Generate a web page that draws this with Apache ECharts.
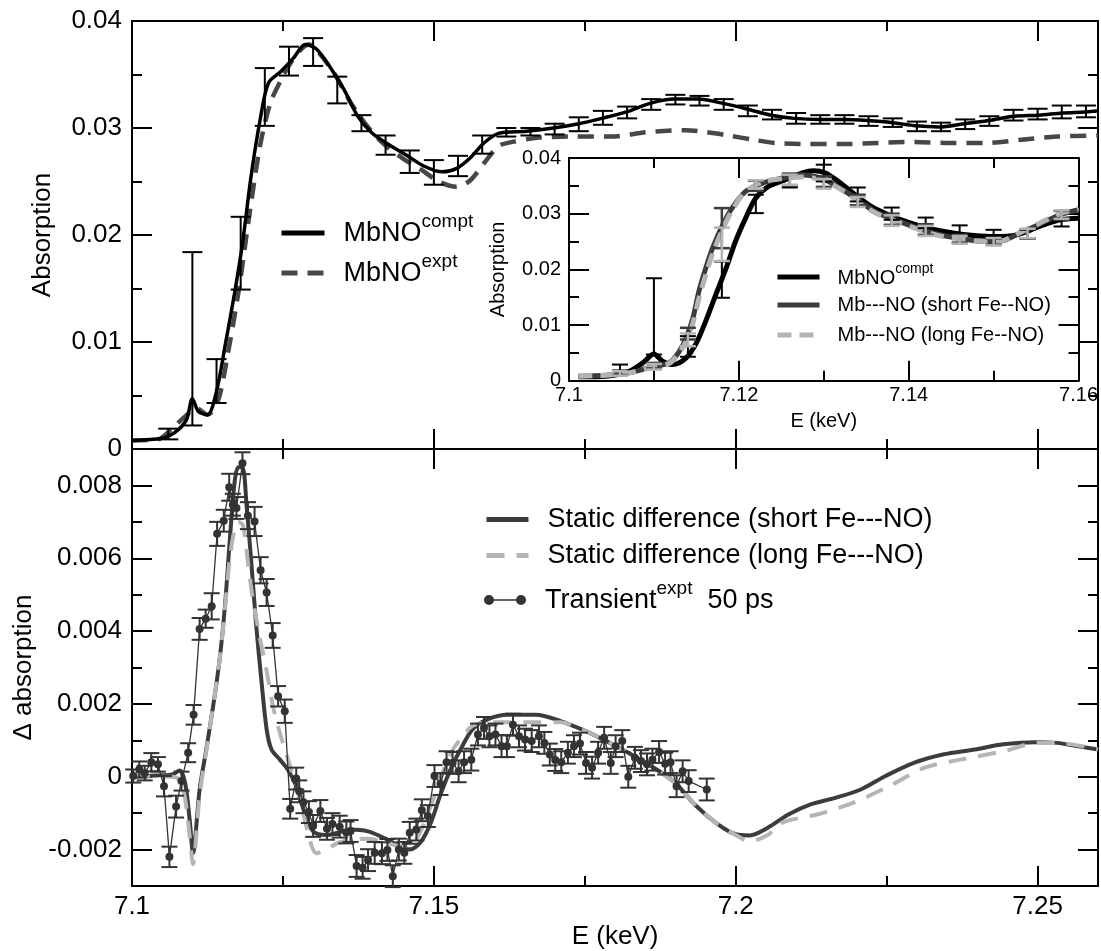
<!DOCTYPE html>
<html><head><meta charset="utf-8">
<script src="https://cdn.jsdelivr.net/npm/echarts@6/dist/echarts.min.js"></script>
<style>html,body{margin:0;padding:0;background:#fff}#c{width:1101px;height:951px}</style>
</head><body><div id="c"></div>
<script>
const FONT = '"Liberation Sans", Arial, Helvetica, sans-serif';

// ---- tick values ----
const xMajor = [7.1, 7.15, 7.2, 7.25];
const xMinor = [7.125, 7.175, 7.225];
const yTopMajor = [0, 0.01, 0.02, 0.03, 0.04];
const yTopMinor = [0.005, 0.015, 0.025, 0.035];
const yBotMajor = [-0.002, 0, 0.002, 0.004, 0.006, 0.008];
const yBotMinor = [-0.001, 0.001, 0.003, 0.005, 0.007];
const xInMajor = [7.1, 7.12, 7.14, 7.16];
const xInMinor = [7.11, 7.13, 7.15];
const yInMajor = [0, 0.01, 0.02, 0.03, 0.04];
const yInMinor = [0.005, 0.015, 0.025, 0.035];

// ---- top panel: MbNO compt ----
const comptE = [7.100,7.105,7.107,7.109,7.110,7.111,7.1125,7.114,7.1155,7.117,7.1183,7.1197,7.1212,7.1226,7.1247,7.1267,7.1287,7.1305,7.1328,7.1351,7.1374,7.1398,7.1421,7.1456,7.1485,7.1514,7.1537,7.156,7.1583,7.1607,7.1653,7.1698,7.174,7.1778,7.1819,7.1858,7.1899,7.1938,7.1979,7.2017,7.2059,7.2097,7.2139,7.218,7.2218,7.226,7.2298,7.2337,7.2378,7.2419,7.2461,7.2502,7.2541,7.2579,7.26];
const comptA = [0.0008,0.0010,0.0015,0.0027,0.0047,0.0035,0.0032,0.0054,0.0099,0.0146,0.0192,0.0254,0.0307,0.0342,0.0353,0.0365,0.0378,0.0374,0.0357,0.0336,0.0311,0.0295,0.0286,0.0274,0.0264,0.0259,0.0262,0.0272,0.0286,0.0295,0.0297,0.0300,0.0304,0.0309,0.0315,0.0323,0.0327,0.0327,0.0323,0.0318,0.0312,0.0309,0.0308,0.0308,0.0307,0.0305,0.0302,0.0301,0.0304,0.0307,0.0311,0.0312,0.0314,0.0315,0.0316];
const comptErrE = [7.106,7.110,7.114,7.118,7.122,7.126,7.130,7.134,7.138,7.142,7.146,7.150,7.154,7.158,7.162,7.166,7.170,7.174,7.178,7.182,7.186,7.190,7.194,7.198,7.202,7.206,7.210,7.214,7.218,7.222,7.226,7.230,7.234,7.238,7.242,7.246,7.250,7.254,7.258];
const comptErrLo = [0.0009,0.0022,0.0043,0.0149,0.0302,0.0349,0.0358,0.0323,0.0297,0.0275,0.0258,0.0247,0.0255,0.0276,0.0292,0.0293,0.0294,0.0297,0.0303,0.0309,0.0317,0.0322,0.0321,0.0317,0.0311,0.0308,0.0304,0.0304,0.0304,0.0302,0.0301,0.0297,0.0297,0.0299,0.0302,0.0307,0.0308,0.0309,0.0310];
const comptErrHi = [0.0019,0.0184,0.0084,0.0217,0.0356,0.0376,0.0384,0.0348,0.0312,0.0293,0.0279,0.0270,0.0274,0.0293,0.0300,0.0300,0.0304,0.0310,0.0316,0.0320,0.0327,0.0331,0.0330,0.0327,0.0321,0.0317,0.0314,0.0312,0.0312,0.0311,0.0309,0.0306,0.0305,0.0308,0.0311,0.0317,0.0318,0.0321,0.0321];

// ---- top panel: MbNO expt ----
const exptE = [7.100,7.1043,7.1066,7.1087,7.1107,7.1125,7.1142,7.116,7.1177,7.1194,7.1212,7.1229,7.1247,7.1264,7.1281,7.1293,7.131,7.1336,7.1363,7.1392,7.1421,7.145,7.1479,7.1508,7.1537,7.156,7.1583,7.1607,7.163,7.1674,7.1734,7.1793,7.1852,7.1917,7.1952,7.1988,7.2029,7.2065,7.2118,7.2177,7.2236,7.2295,7.2354,7.2414,7.2473,7.2532,7.26];
const exptA = [0.0008,0.0009,0.0019,0.0030,0.0038,0.0032,0.0044,0.0093,0.0149,0.0217,0.0283,0.0323,0.0345,0.0362,0.0374,0.0378,0.0370,0.0350,0.0323,0.0300,0.0283,0.0271,0.0261,0.0250,0.0245,0.0251,0.0267,0.0283,0.0287,0.0291,0.0292,0.0292,0.0296,0.0298,0.0296,0.0293,0.0289,0.0286,0.0285,0.0285,0.0286,0.0287,0.0286,0.0286,0.0289,0.0292,0.0293];

// ---- inset ----
const inComptE = [7.1011,7.1044,7.1071,7.1087,7.110,7.111,7.1122,7.1138,7.115,7.1161,7.1173,7.1185,7.1196,7.1208,7.122,7.1235,7.1255,7.1274,7.1288,7.1302,7.1317,7.1337,7.1356,7.1376,7.1399,7.1423,7.1454,7.1477,7.1501,7.1527,7.1554,7.1578,7.16];
const inComptA = [0.0007,0.0008,0.0017,0.0032,0.0048,0.0035,0.0029,0.0041,0.0068,0.0107,0.0155,0.0202,0.0250,0.0292,0.0328,0.0349,0.0361,0.0373,0.0377,0.0373,0.0358,0.0334,0.0313,0.0298,0.0285,0.0274,0.0265,0.0261,0.0259,0.0262,0.0277,0.0289,0.0292];
const inShortE = [7.1011,7.1044,7.1071,7.110,7.1118,7.113,7.1138,7.1146,7.1153,7.1161,7.1169,7.1181,7.1192,7.1208,7.1228,7.1251,7.1274,7.1294,7.1313,7.1337,7.136,7.1384,7.1411,7.1434,7.1462,7.1489,7.1509,7.1527,7.1554,7.1578,7.16];
const inShortA = [0.0008,0.0010,0.0014,0.0026,0.0032,0.0053,0.0077,0.0113,0.0161,0.0202,0.0238,0.0280,0.0310,0.0340,0.0355,0.0364,0.0370,0.0365,0.0352,0.0328,0.0304,0.0289,0.0274,0.0263,0.0255,0.0250,0.0251,0.0262,0.0281,0.0298,0.0307];
const inLongA = [0.0008,0.0010,0.0014,0.0025,0.0031,0.0050,0.0071,0.0104,0.0148,0.0190,0.0228,0.0272,0.0306,0.0340,0.0357,0.0363,0.0366,0.0362,0.0350,0.0326,0.0302,0.0287,0.0272,0.0261,0.0254,0.0250,0.0251,0.0263,0.0283,0.0300,0.0309];
const inErrE = [7.106,7.110,7.114,7.118,7.122,7.126,7.130,7.134,7.138,7.142,7.146,7.150,7.154,7.158];
const inComptLo = [0.0018,0.0047,0.0043,0.0149,0.0301,0.0347,0.0358,0.0322,0.0289,0.0274,0.0261,0.0255,0.0256,0.0277];
const inComptHi = [0.0029,0.0184,0.0080,0.0214,0.0334,0.0370,0.0388,0.0347,0.0311,0.0293,0.0279,0.0271,0.0271,0.0292];
const inShortLo = [0.0010,0.0022,0.0074,0.0238,0.0341,0.0350,0.0348,0.0315,0.0280,0.0262,0.0248,0.0244,0.0255,0.0289];
const inShortHi = [0.0018,0.0032,0.0095,0.0310,0.0359,0.0372,0.0367,0.0334,0.0300,0.0281,0.0262,0.0257,0.0272,0.0305];
const inLongLo = [0.0009,0.0020,0.0062,0.0215,0.0345,0.0352,0.0345,0.0312,0.0278,0.0260,0.0246,0.0243,0.0256,0.0291];
const inLongHi = [0.0017,0.0030,0.0085,0.0275,0.0360,0.0370,0.0362,0.0330,0.0297,0.0278,0.0260,0.0256,0.0273,0.0306];

// ---- bottom panel ----
const shortE = [7.100,7.1046,7.1066,7.1079,7.1088,7.1096,7.1101,7.1112,7.1123,7.1134,7.1145,7.1154,7.1162,7.117,7.1176,7.1183,7.119,7.1198,7.1206,7.1214,7.1223,7.1231,7.1245,7.1258,7.1272,7.1286,7.13,7.1322,7.1349,7.1362,7.1391,7.142,7.1443,7.146,7.1478,7.1495,7.1512,7.153,7.1547,7.1564,7.1588,7.1622,7.1669,7.171,7.1745,7.1781,7.1822,7.1864,7.1899,7.1935,7.197,7.2,7.2023,7.2053,7.2088,7.2124,7.2165,7.2207,7.2248,7.2295,7.2343,7.2396,7.2443,7.2496,7.2532,7.2573,7.26];
const shortD = [0,0.00004,0.00006,0.00017,-0.00017,-0.00126,-0.0021,-0.00035,0.00075,0.0019,0.0032,0.0047,0.0065,0.0081,0.0085,0.0085,0.0074,0.0058,0.0041,0.0027,0.0013,0.00075,0.00047,0.0002,-0.00026,-0.00099,-0.0015,-0.0016,-0.0015,-0.00145,-0.0015,-0.0017,-0.0019,-0.0020,-0.0018,-0.00126,-0.00044,0.00029,0.00084,0.0013,0.00157,0.0017,0.0017,0.00153,0.0013,0.00102,0.00066,0.00025,-0.00016,-0.00081,-0.0013,-0.00158,-0.00161,-0.0014,-0.00103,-0.00076,-0.00058,-0.00035,0.00002,0.00038,0.00061,0.00075,0.00089,0.00095,0.00093,0.00082,0.00075];
const longE = [7.100,7.1066,7.1079,7.1088,7.1096,7.1101,7.1112,7.1123,7.1134,7.1145,7.1154,7.1162,7.117,7.1176,7.1184,7.1192,7.12,7.1212,7.1223,7.1234,7.1245,7.1258,7.1278,7.1294,7.1305,7.1322,7.1344,7.1391,7.142,7.1443,7.146,7.1478,7.1495,7.1512,7.153,7.1547,7.1564,7.1588,7.1622,7.1669,7.171,7.1745,7.1781,7.1822,7.1864,7.1899,7.1935,7.197,7.2,7.2023,7.2053,7.2077,7.2136,7.2195,7.2254,7.2313,7.2372,7.2443,7.25,7.2532,7.26];
const longD = [0,0,-0.0001,-0.0006,-0.0017,-0.0024,-0.0005,0.0007,0.0019,0.0032,0.0046,0.0060,0.0068,0.0070,0.0069,0.0059,0.0049,0.0038,0.0029,0.0019,0.0012,0.0005,-0.0006,-0.0017,-0.0021,-0.0020,-0.0018,-0.0017,-0.0018,-0.0019,-0.0019,-0.0015,-0.0008,0.0,0.0007,0.0011,0.0014,0.0015,0.0015,0.0015,0.0015,0.0013,0.00102,0.00066,0.00025,-0.00016,-0.0008,-0.0013,-0.0016,-0.00177,-0.0016,-0.00126,-0.00103,-0.00071,-0.00026,0.00025,0.00047,0.0007,0.00093,0.00093,0.00075];
const transE = [7.1002,7.1012,7.1021,7.1032,7.1043,7.1053,7.1062,7.1073,7.1082,7.1093,7.1102,7.1112,7.1122,7.1132,7.1141,7.1152,7.1161,7.1167,7.1173,7.1183,7.1192,7.1203,7.1213,7.1223,7.1233,7.1242,7.1253,7.1262,7.1272,7.1277,7.1284,7.1293,7.13,7.1312,7.1323,7.1332,7.1344,7.1355,7.1362,7.1372,7.1382,7.1391,7.1402,7.1414,7.1423,7.1432,7.1442,7.1451,7.146,7.1471,7.148,7.149,7.1501,7.1511,7.1521,7.1531,7.1541,7.155,7.1562,7.1573,7.1583,7.1592,7.1602,7.1612,7.1621,7.1631,7.1641,7.1651,7.1662,7.1674,7.1683,7.1692,7.1701,7.1711,7.1722,7.1732,7.1742,7.1752,7.1762,7.1772,7.1782,7.1793,7.1801,7.1812,7.1822,7.1833,7.1843,7.1853,7.1862,7.1873,7.1883,7.1892,7.1902,7.1912,7.1922,7.1952];
const transD = [0.00002,0.0002,0.0001,0.0004,0.00034,-0.00026,-0.0022,-0.00082,-0.00012,0.00066,0.0017,0.00406,0.00434,0.00468,0.00667,0.00703,0.00795,0.00747,0.00738,0.00861,0.00717,0.00701,0.00567,0.00506,0.00388,0.00221,0.0018,-0.00088,-0.00005,-0.0004,-0.0007,-0.00097,-0.00135,-0.00094,-0.00143,-0.0013,-0.00137,-0.00153,-0.00149,-0.00245,-0.0025,-0.00229,-0.00209,-0.0021,-0.00201,-0.00273,-0.002,-0.00209,-0.00154,-0.00145,-0.00092,-0.00108,0.00002,-0.0002,0.0004,0.00038,0.00015,0.0004,0.00047,0.00116,0.00134,0.00111,0.00116,0.00084,0.00084,0.00143,0.00111,0.00102,0.00098,0.00111,0.00093,0.00061,0.00046,0.0004,0.00066,0.00084,0.00091,0.00038,0.00025,0.00066,0.00107,0.00038,0.00084,0.00098,0.0,0.00052,0.00043,0.00034,0.00047,0.00068,0.00036,0.0004,-0.00026,0.00015,-0.00012,-0.00035];
const transErr = [0.00018,0.00022,0.0002,0.00025,0.0002,0.00028,0.00028,0.0003,0.00026,0.00026,0.00027,0.0003,0.00025,0.00036,0.00033,0.0003,0.00037,0.0003,0.0003,0.0003,0.00037,0.0004,0.00036,0.00037,0.00034,0.00028,0.00032,0.00027,0.0003,0.0003,0.0003,0.0003,0.0003,0.0003,0.0003,0.0003,0.0003,0.0003,0.0003,0.0003,0.0003,0.0003,0.0003,0.0003,0.0003,0.0003,0.0003,0.0003,0.0003,0.0003,0.0003,0.0003,0.0003,0.0003,0.0003,0.0003,0.0003,0.0003,0.0003,0.0003,0.0003,0.0003,0.0003,0.0003,0.0003,0.0003,0.0003,0.0003,0.0003,0.0003,0.0003,0.0003,0.0003,0.0003,0.0003,0.0003,0.0003,0.0003,0.0003,0.0003,0.0003,0.0003,0.0003,0.0003,0.0003,0.0003,0.0003,0.0003,0.0003,0.0003,0.0003,0.0003,0.0003,0.0003,0.0003,0.0003];

// ---- helpers ----
const zip = (xs, ys) => xs.map((x, i) => [x, ys[i]]);
const fmt = v => String(+(+v).toFixed(4));

function axisSet(dim, grid, min, max, major, minor, o) {
  const A = dim === 'x' ? 'bottom' : 'left';
  const B = dim === 'x' ? 'top' : 'right';
  const mk = (pos, vals, len, withLine, withLabel) => {
    const ax = {
      type: 'value', gridIndex: grid, min: min, max: max, position: pos,
      splitLine: {show: false},
      axisLine: withLine ? {show: true, onZero: false, lineStyle: {color: '#000', width: 2}} : {show: false, onZero: false},
      axisTick: {show: true, inside: true, length: len, customValues: vals, lineStyle: {color: '#000', width: 2}},
      axisLabel: withLabel ? {show: true, customValues: major, formatter: fmt, fontSize: o.fs, fontFamily: FONT, color: '#000', margin: o.margin} : {show: false},
      silent: true
    };
    if (withLabel && o.name) {
      ax.name = o.name; ax.nameLocation = 'middle'; ax.nameGap = o.nameGap;
      ax.nameTextStyle = {fontSize: o.nfs, fontFamily: FONT, color: '#000'};
    }
    return ax;
  };
  return [mk(A, major, o.maj, true, o.labels), mk(A, minor, o.min, false, false),
          mk(B, major, o.maj, true, false), mk(B, minor, o.min, false, false)];
}

function errSeries(name, xi, yi, es, lo, hi, color, width, cap) {
  return {
    type: 'custom', name: name, xAxisIndex: xi, yAxisIndex: yi, z: 4, silent: true,
    data: es.map((e, i) => [e, lo[i], hi[i]]),
    encode: {x: 0, y: [1, 2]},
    renderItem: function (params, api) {
      const a = api.coord([api.value(0), api.value(2)]);
      const b = api.coord([api.value(0), api.value(1)]);
      const st = {stroke: color, lineWidth: width};
      return {type: 'group', children: [
        {type: 'line', shape: {x1: a[0], y1: a[1], x2: b[0], y2: b[1]}, style: st},
        {type: 'line', shape: {x1: a[0] - cap, y1: a[1], x2: a[0] + cap, y2: a[1]}, style: st},
        {type: 'line', shape: {x1: b[0] - cap, y1: b[1], x2: b[0] + cap, y2: b[1]}, style: st}
      ]};
    }
  };
}

const legendText = {
  'MbNO compt': '{n|MbNO}{s|compt}',
  'MbNO expt': '{n|MbNO}{s|expt}',
  'Inset compt': '{n|MbNO}{s|compt}',
  'Inset short': '{n|Mb---NO (short Fe--NO)}',
  'Inset long': '{n|Mb---NO (long Fe--NO)}',
  'Static short': '{n|Static difference (short Fe---NO)}',
  'Static long': '{n|Static difference (long Fe---NO)}',
  'Transient': '{n|Transient}{s|expt}{n|  50 ps}'
};
function leg(item, left, top, iw, ih, padL, rich, hideSymbol) {
  const l = {
    show: true, left: left, top: top, orient: 'vertical', padding: 0,
    itemWidth: iw, itemHeight: ih, selectedMode: false,
    data: [item],
    formatter: n => legendText[n],
    lineStyle: {width: 5},
    textStyle: {fontFamily: FONT, color: '#000', padding: [0, 0, 0, padL], rich: rich}
  };
  if (hideSymbol) l.itemStyle = {color: 'rgba(0,0,0,0)', borderWidth: 0, opacity: 0};
  return l;
}
const richSupBig = {
  n: {fontSize: 27, fontFamily: FONT, color: '#000', lineHeight: 28, padding: [24, 0, 0, 0], verticalAlign: 'bottom'},
  s: {fontSize: 19, fontFamily: FONT, color: '#000', lineHeight: 20, padding: [0, 0, 16, 0], verticalAlign: 'bottom'}
};
const richTrans = {
  n: {fontSize: 27, fontFamily: FONT, color: '#000', lineHeight: 28, padding: [8, 0, 0, 0], verticalAlign: 'bottom'},
  s: {fontSize: 19, fontFamily: FONT, color: '#000', lineHeight: 20, padding: [0, 0, 16, 0], verticalAlign: 'bottom'}
};
const richPlainBig = {n: {fontSize: 27, fontFamily: FONT, color: '#000', lineHeight: 30}};
const richSupSmall = {
  n: {fontSize: 20, fontFamily: FONT, color: '#000', lineHeight: 22, padding: [6, 0, 0, 0], verticalAlign: 'bottom'},
  s: {fontSize: 14, fontFamily: FONT, color: '#000', lineHeight: 16, padding: [0, 0, 12, 0], verticalAlign: 'bottom'}
};
const richPlainSmall = {n: {fontSize: 20, fontFamily: FONT, color: '#000', lineHeight: 22}};

const mainX = {fs: 26, margin: 8, maj: 20, min: 10, nfs: 26};
const xAxes = [].concat(
  axisSet('x', 0, 7.1, 7.26, xMajor, xMinor, Object.assign({}, mainX, {labels: false})),
  axisSet('x', 1, 7.1, 7.26, xMajor, xMinor, Object.assign({}, mainX, {labels: true, name: 'E (keV)', nameGap: 38})),
  axisSet('x', 2, 7.1, 7.16, xInMajor, xInMinor, {fs: 20, margin: 5, maj: 20, min: 10, nfs: 20, labels: true, name: 'E (keV)', nameGap: 31})
);
const yAxes = [].concat(
  axisSet('y', 0, 0, 0.04, yTopMajor, yTopMinor, {fs: 26, margin: 10, maj: 20, min: 10, nfs: 26, labels: true, name: 'Absorption', nameGap: 76}),
  axisSet('y', 1, -0.003, 0.009, yBotMajor, yBotMinor, {fs: 26, margin: 10, maj: 20, min: 10, nfs: 26, labels: true, name: '\u0394 absorption', nameGap: 95}),
  axisSet('y', 2, 0, 0.04, yInMajor, yInMinor, {fs: 20, margin: 8, maj: 20, min: 10, nfs: 20, labels: true, name: 'Absorption', nameGap: 61})
);

const series = [
  // top panel
  {type: 'line', name: 'MbNO compt', xAxisIndex: 0, yAxisIndex: 0, data: zip(comptE, comptA), symbol: 'none', smooth: 0.3, z: 3,
   color: '#000', lineStyle: {color: '#000', width: 3.5}},
  {type: 'line', name: 'MbNO expt', xAxisIndex: 0, yAxisIndex: 0, data: zip(exptE, exptA), symbol: 'none', smooth: 0.3, z: 2,
   color: '#474747', lineStyle: {color: '#474747', width: 4.5, type: [16, 10]}},
  errSeries('compt err', 0, 0, comptErrE, comptErrLo, comptErrHi, '#000', 2, 10),
  // inset
  {type: 'line', name: 'Inset compt', xAxisIndex: 8, yAxisIndex: 8, data: zip(inComptE, inComptA), symbol: 'none', smooth: 0.3, z: 3,
   color: '#000', lineStyle: {color: '#000', width: 5}},
  {type: 'line', name: 'Inset short', xAxisIndex: 8, yAxisIndex: 8, data: zip(inShortE, inShortA), symbol: 'none', smooth: 0.3, z: 3,
   color: '#3c3c3c', lineStyle: {color: '#3c3c3c', width: 5}},
  {type: 'line', name: 'Inset long', xAxisIndex: 8, yAxisIndex: 8, data: zip(inShortE, inLongA), symbol: 'none', smooth: 0.3, z: 3,
   color: '#b4b4b4', lineStyle: {color: '#b4b4b4', width: 5, type: [14, 8]}},
  errSeries('in compt err', 8, 8, inErrE, inComptLo, inComptHi, '#000', 2, 8),
  errSeries('in short err', 8, 8, inErrE, inShortLo, inShortHi, '#3c3c3c', 2.5, 8),
  errSeries('in long err', 8, 8, inErrE, inLongLo, inLongHi, '#b4b4b4', 2.5, 8),
  // bottom panel
  {type: 'line', name: 'Static short', xAxisIndex: 4, yAxisIndex: 4, data: zip(shortE, shortD), symbol: 'none', smooth: 0.3, z: 2,
   color: '#3c3c3c', lineStyle: {color: '#3c3c3c', width: 4}},
  {type: 'line', name: 'Static long', xAxisIndex: 4, yAxisIndex: 4, data: zip(longE, longD), symbol: 'none', smooth: 0.3, z: 2,
   color: '#b5b5b5', lineStyle: {color: '#b5b5b5', width: 4, type: [18, 12]}},
  {type: 'line', name: 'Transient', xAxisIndex: 4, yAxisIndex: 4, data: zip(transE, transD), symbol: 'circle', symbolSize: 8, z: 5,
   color: '#333', itemStyle: {color: '#333'}, lineStyle: {color: '#333', width: 1.3}},
  errSeries('trans err', 4, 4, transE, transD.map((d, i) => d - transErr[i]), transD.map((d, i) => d + transErr[i]), '#333', 2, 8)
];

const transIcon = 'path://M5,0A5,5,0,1,1,4.99,0ZM37,0A5,5,0,1,1,36.99,0ZM5,4.3L37,4.3L37,5.7L5,5.7Z';

const option = {
  animation: false,
  backgroundColor: '#fff',
  grid: [
    {left: 132, top: 21, width: 966, height: 428},
    {left: 132, top: 449, width: 966, height: 437.7},
    {left: 569, top: 158, width: 512, height: 222.7, show: true, backgroundColor: '#fff', borderWidth: 0}
  ],
  xAxis: xAxes,
  yAxis: yAxes,
  legend: [
    leg('MbNO compt', 279, 196, 43, 14, 14, richSupBig, true),
    leg('MbNO expt', 279, 236, 43, 14, 14, richSupBig, true),
    leg('Inset compt', 775, 262, 42, 14, 13, richSupSmall, true),
    leg('Inset short', 775, 295, 42, 14, 13, richPlainSmall, true),
    leg('Inset long', 775, 325, 42, 14, 13, richPlainSmall, true),
    leg('Static short', 484, 506, 42, 14, 14, richPlainBig, true),
    leg('Static long', 484, 542, 42, 14, 14, richPlainBig, true),
    leg({name: 'Transient', icon: transIcon}, 484, 579, 42, 10, 14, richTrans, false)
  ],
  series: series
};

const chart = echarts.init(document.getElementById('c'), null, {renderer: 'canvas'});
chart.setOption(option);
</script>
</body></html>
